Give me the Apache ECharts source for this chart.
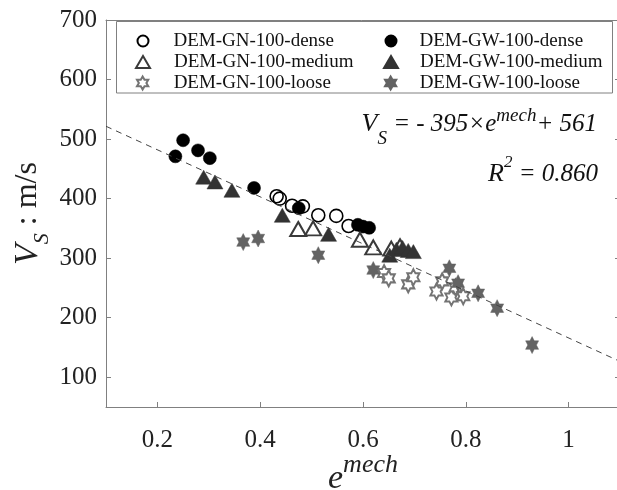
<!DOCTYPE html>
<html><head><meta charset="utf-8">
<script src="https://cdn.jsdelivr.net/npm/echarts@6/dist/echarts.min.js"></script>
<style>html,body{margin:0;padding:0;background:#fff}#c{width:617px;height:490px}</style>
</head><body><div id="c"></div>
<script>
const seriesNames = ['DEM-GN-100-dense','DEM-GW-100-dense','DEM-GN-100-medium','DEM-GW-100-medium','DEM-GN-100-loose','DEM-GW-100-loose'];
const gnDense = [[0.432,404],[0.438,400],[0.462,388],[0.483,387],[0.513,372],[0.548,371],[0.572,354]];
const gwDense = [[0.235,471],[0.250,498],[0.279,481],[0.302,468],[0.388,418],[0.475,384],[0.590,356],[0.600,353],[0.612,351]];
const gnMedium = [[0.474,349],[0.503,350],[0.594,331],[0.620,318],[0.655,316],[0.672,320]];
const gwMedium = [[0.290,436],[0.312,428],[0.345,414],[0.443,372],[0.533,340],[0.652,305],[0.665,315],[0.677,318],[0.688,313],[0.698,311]];
const gnLoose = [[0.641,275],[0.650,266],[0.688,256],[0.698,268],[0.743,244],[0.754,261],[0.772,234],[0.780,251],[0.795,236]];
const gwLoose = [[0.367,327],[0.396,333],[0.513,305],[0.620,280],[0.768,283],[0.785,258],[0.824,241],[0.861,216],[0.929,154]];
const fitLine = [[0.1,521.5],[1.1,126.5]];
const xTicks = [0.2,0.4,0.6,0.8,1.0];
const yTicks = [100,200,300,400,500,600,700];

const FONT = 'Liberation Serif';
const STAR = 'path://M0,-10L2.887,-5L8.66,-5L5.774,0L8.66,5L2.887,5L0,10L-2.887,5L-8.66,5L-5.774,0L-8.66,-5L-2.887,-5Z';
const AX = '#808080';

const chart = echarts.init(document.getElementById('c'));

function leg(name, left, top, w, h, pad) {
  return {
    data: [name], left: left, top: top, padding: 0, itemWidth: w, itemHeight: h,
    selectedMode: false,
    textStyle: { fontFamily: FONT, fontSize: 19, color: '#111', lineHeight: 20, padding: [0,0,0,pad] }
  };
}

const baseX = {
  type: 'value', min: 0.1, max: 1.1,
  axisLine: { show: true, onZero: false, lineStyle: { color: AX, width: 1 } },
  axisTick: { show: true, inside: true, length: 5, customValues: xTicks, lineStyle: { color: AX } },
  splitLine: { show: false }
};
const baseY = {
  type: 'value', min: 50, max: 700,
  axisLine: { show: true, onZero: false, lineStyle: { color: AX, width: 1 } },
  axisTick: { show: true, inside: true, length: 5, customValues: yTicks, lineStyle: { color: AX } },
  splitLine: { show: false }
};

chart.setOption({
  animation: false,
  backgroundColor: '#fff',
  grid: { left: 106, top: 20, right: -3, bottom: 83, show: false, containLabel: false, outerBoundsMode: 'none' },
  xAxis: [
    Object.assign({}, baseX, {
      position: 'bottom',
      axisLabel: { customValues: xTicks, fontFamily: FONT, fontSize: 25, color: '#222', margin: 21 },
      name: '{e|e}{m|mech}', nameLocation: 'middle', nameGap: 55, nameMoveOverlap: false,
      nameTextStyle: {
        rich: {
          e: { fontFamily: FONT, fontStyle: 'italic', fontSize: 34, lineHeight: 34, color: '#222' },
          m: { fontFamily: FONT, fontStyle: 'italic', fontSize: 26, lineHeight: 26, padding: [0,0,27,0], color: '#222' }
        }
      }
    }),
    Object.assign({}, baseX, { position: 'top', axisLabel: { show: false } })
  ],
  yAxis: [
    Object.assign({}, baseY, {
      position: 'left',
      axisLabel: { customValues: yTicks, fontFamily: FONT, fontSize: 25, color: '#222', margin: 9 },
      name: '{v|V}{s|S}{t| : m/s}', nameLocation: 'middle', nameGap: 61, nameRotate: 90, nameMoveOverlap: false,
      nameTextStyle: {
        rich: {
          v: { fontFamily: FONT, fontStyle: 'italic', fontSize: 34, lineHeight: 34, color: '#222' },
          s: { fontFamily: FONT, fontStyle: 'italic', fontSize: 22, lineHeight: 22, padding: [28,0,0,0], color: '#222' },
          t: { fontFamily: FONT, fontSize: 32, lineHeight: 32, color: '#222' }
        }
      }
    }),
    Object.assign({}, baseY, { position: 'right', axisLabel: { show: false } })
  ],
  legend: [
    leg(seriesNames[0], 136.5, 31, 11, 11, 20),
    leg(seriesNames[1], 384.5, 31, 11, 11, 18),
    leg(seriesNames[2], 135, 52, 14, 12, 19),
    leg(seriesNames[3], 383, 52, 14, 12, 17),
    leg(seriesNames[4], 136, 73, 12, 13, 20),
    leg(seriesNames[5], 384, 73, 12, 13, 18)
  ],
  graphic: [
    { type: 'rect', z: 3, shape: { x: 116.5, y: 21.5, width: 496, height: 71.5 },
      style: { fill: '#fff', stroke: AX, lineWidth: 1 } },
    { type: 'text', z: 10, style: {
        x: 597, y: 124, align: 'right', verticalAlign: 'middle',
        text: '{v|V}{s|S}{t| = - 395×e}{m|mech}{t|+ 561}',
        rich: {
          v: { fontFamily: FONT, fontStyle: 'italic', fontSize: 26, lineHeight: 26, fill: '#111' },
          s: { fontFamily: FONT, fontStyle: 'italic', fontSize: 19, lineHeight: 18, padding: [30,0,0,0], fill: '#111' },
          t: { fontFamily: FONT, fontStyle: 'italic', fontSize: 25, lineHeight: 26, fill: '#111' },
          m: { fontFamily: FONT, fontStyle: 'italic', fontSize: 19, lineHeight: 18, padding: [0,0,16,0], fill: '#111' }
        }
    } },
    { type: 'text', z: 10, style: {
        x: 598, y: 174, align: 'right', verticalAlign: 'middle',
        text: '{v|R}{p|2}{t| = 0.860}',
        rich: {
          v: { fontFamily: FONT, fontStyle: 'italic', fontSize: 26, lineHeight: 26, fill: '#111' },
          p: { fontFamily: FONT, fontStyle: 'italic', fontSize: 17, lineHeight: 17, padding: [0,0,22,0], fill: '#111' },
          t: { fontFamily: FONT, fontStyle: 'italic', fontSize: 25, lineHeight: 26, fill: '#111' }
        }
    } }
  ],
  series: [
    { name: seriesNames[0], type: 'scatter', data: gnDense, symbol: 'circle', symbolSize: 13, z: 2,
      itemStyle: { color: 'rgba(255,255,255,0)', borderColor: '#000', borderWidth: 1.6, opacity: 1 } },
    { name: seriesNames[1], type: 'scatter', data: gwDense, symbol: 'circle', symbolSize: 13, z: 2,
      itemStyle: { color: '#000', borderColor: '#000', borderWidth: 0.5, opacity: 1 } },
    { name: seriesNames[2], type: 'scatter', data: gnMedium, symbol: 'triangle', symbolSize: [16,14], z: 2,
      itemStyle: { color: 'rgba(255,255,255,0)', borderColor: '#3a3a3a', borderWidth: 2, opacity: 1 } },
    { name: seriesNames[3], type: 'scatter', data: gwMedium, symbol: 'triangle', symbolSize: [16,14], z: 2,
      itemStyle: { color: '#333', borderColor: '#333', borderWidth: 0.5, opacity: 1 } },
    { name: seriesNames[4], type: 'scatter', data: gnLoose, symbol: STAR, symbolKeepAspect: true, symbolSize: [14,16], z: 2,
      itemStyle: { color: '#fff', borderColor: '#747474', borderWidth: 2, opacity: 1 } },
    { name: seriesNames[5], type: 'scatter', data: gwLoose, symbol: STAR, symbolKeepAspect: true, symbolSize: [15,17], z: 2,
      itemStyle: { color: '#636363', borderColor: '#636363', borderWidth: 0.5, opacity: 1 } },
    { name: 'fit', type: 'line', data: fitLine, symbol: 'none', showSymbol: false, silent: true, z: 5,
      lineStyle: { type: [6,5], color: '#444', width: 1 } }
  ]
});
</script></body></html>
